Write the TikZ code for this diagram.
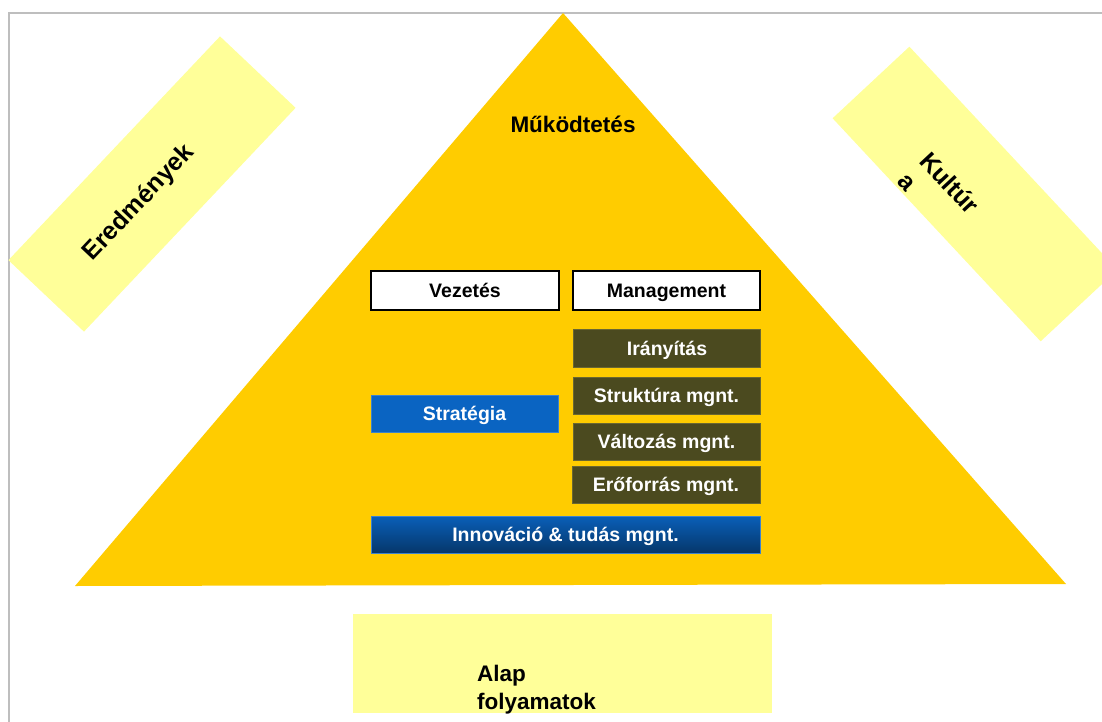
\documentclass[tikz,border=0pt]{standalone}
\usepackage{fontspec}
\setmainfont{Liberation Sans}
\definecolor{pyryellow}{HTML}{FFCC00}
\definecolor{notepale}{HTML}{FFFF99}
\definecolor{olivebox}{HTML}{4B4A1F}
\definecolor{oliveedge}{HTML}{6A6732}
\definecolor{stratblue}{HTML}{0A64C2}
\definecolor{blueedge}{HTML}{3C82CC}
\definecolor{framegray}{HTML}{BEBEBE}
\begin{document}
\begin{tikzpicture}[x=1pt, y=-1pt,
  boxtext/.style={inner sep=0pt, text height=14.5pt, text depth=0.5pt, font=\bfseries\fontsize{19.5}{23}\selectfont},
  headbox/.style={boxtext, draw=black, line width=1.2pt, fill=white},
  mgntbox/.style={boxtext, draw=oliveedge, line width=0.8pt, fill=olivebox, text=white, minimum width=187pt, minimum height=37pt},
  bluebox/.style={boxtext, draw=blueedge, line width=0.8pt, text=white, minimum height=37pt},
  note/.style={fill=notepale, inner sep=0pt},
  notetext/.style={inner sep=0pt, font=\bfseries\fontsize{25}{30}\selectfont}]
\useasboundingbox (0,0) rectangle (1102,722);
% frame
\draw[framegray, line width=1.5pt] (9,722) |- (1102,13);
% side notes
\node[note, rotate=46.6, minimum width=308pt, minimum height=104pt] (ered) at (152,184) {};
\node[notetext, rotate=46.6] (eredtext) at (139,203) {Eredmények};
\node[note, rotate=-47, minimum width=305pt, minimum height=105pt] (kult) at (975,194) {};
\node[notetext, rotate=-47, align=left] (kulttext) at (939,193) {Kultúr\\a};
% pyramid
\coordinate (apex) at (563,13);
\coordinate (bl) at (75,586);
\coordinate (br) at (1066,584);
\fill[pyryellow] (apex) -- (bl) -- (br) -- cycle;
\node[font=\bfseries\fontsize{22.5}{27}\selectfont, inner sep=0pt] (mukod) at (573,124) {Működtetés};
% boxes
\node[headbox, minimum width=188pt, minimum height=39pt] (vez) at (465,290.5) {Vezetés};
\node[headbox, minimum width=187pt, minimum height=39pt] (mgmt) at (666.5,290.5) {Management};
\node[mgntbox, minimum height=38pt] (iran) at (667,348) {Irányítás};
\node[mgntbox] (strukt) at (666.5,395.5) {Struktúra mgnt.};
\node[mgntbox] (valt) at (666.5,441.5) {Változás mgnt.};
\node[mgntbox, minimum width=188pt] (erof) at (666,484.5) {Erőforrás mgnt.};
\node[bluebox, fill=stratblue, minimum width=187pt] (strat) at (464.5,413.5) {Stratégia};
\node[bluebox, top color=stratblue!95!black, bottom color=stratblue!55!black, minimum width=389pt] (innov) at (565.5,534.5) {Innováció \& tudás mgnt.};
% base
\node[note, minimum width=419pt, minimum height=99pt] (alap) at (562.5,663.5) {};
\node[inner sep=0pt, anchor=west, align=left, font=\bfseries\fontsize{22.5}{28}\selectfont] (alaptext) at (477,690) {Alap\\folyamatok};
\end{tikzpicture}
\end{document}
